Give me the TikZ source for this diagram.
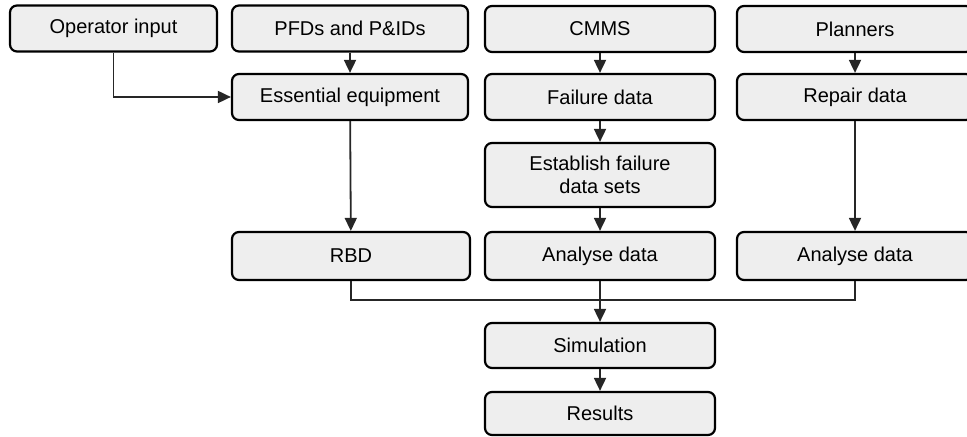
\documentclass[tikz,border=0pt]{standalone}
\usepackage{fontspec}
\setmainfont{Liberation Sans}
\usepackage{tikz}
\usetikzlibrary{arrows.meta}

\tikzset{
  stagebox/.style={draw=black,line width=1.1pt,rounded corners=3.5pt,fill=gray!13,
    minimum height=23pt,align=center,font=\fontsize{10}{11.5}\selectfont,inner sep=1pt},
  flow/.style={draw=black!85,line width=0.9pt,-{Triangle[width=6pt,length=6.5pt]}},
  link/.style={draw=black!85,line width=0.9pt}
}

\begin{document}
\begin{tikzpicture}[x=0.5pt,y=-0.5pt]
%%%
% 1px = 0.5pt
%%%
\clip (0,0) rectangle (967,437);

% top row
\node[stagebox,minimum width=103.5pt] (operator) at (113.5,28.5) {Operator input};
\node[stagebox,minimum width=118pt] (pfd) at (350,28.5) {PFDs and P\&IDs};
\node[stagebox,minimum width=115pt] (cmms) at (600,29) {CMMS};
\node[stagebox,minimum width=118pt] (planners) at (855,29) {Planners};

% second row
\node[stagebox,minimum width=118pt] (essential) at (350,97) {Essential equipment};
\node[stagebox,minimum width=115pt] (failure) at (600,97) {Failure data};
\node[stagebox,minimum width=118pt] (repair) at (855,97) {Repair data};

\node[stagebox,minimum width=115pt,minimum height=32pt] (sets) at (600,175) {Establish failure\\data sets};

% analysis row
\node[stagebox,minimum width=119pt,minimum height=24pt] (rbd) at (351,256) {RBD};
\node[stagebox,minimum width=115pt,minimum height=24pt] (analyse) at (600,256) {Analyse data};
\node[stagebox,minimum width=118pt,minimum height=24pt] (analyserepair) at (855,256) {Analyse data};

% output
\node[stagebox,minimum width=115pt,minimum height=22.5pt] (simulation) at (600,345.5) {Simulation};
\node[stagebox,minimum width=115pt,minimum height=21.5pt] (results) at (600,413.5) {Results};

\coordinate (bus) at (600,300);

\draw[flow] (operator.south) |- (essential.west);
\draw[flow] (pfd) -- (essential);
\draw[flow] (essential) -- (rbd);
\draw[flow] (cmms) -- (failure);
\draw[flow] (failure) -- (sets);
\draw[flow] (sets) -- (analyse);
\draw[flow] (planners) -- (repair);
\draw[flow] (repair) -- (analyserepair);

\draw[link] (rbd.south) |- (bus) -| (analyserepair.south);
\draw[flow] (analyse) -- (simulation);
\draw[flow] (simulation) -- (results);
\end{tikzpicture}
\end{document}
